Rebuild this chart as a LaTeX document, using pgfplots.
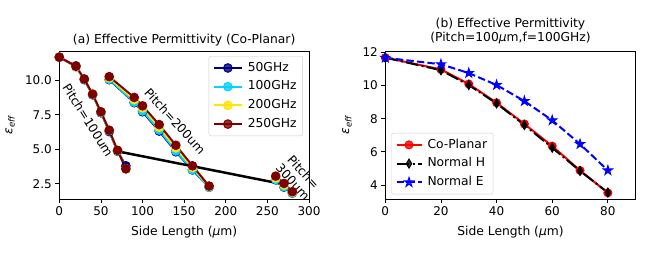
\documentclass[border=0pt]{standalone}
\usepackage{fontspec}
\setmainfont{DejaVu Sans}
\usepackage{pgfplots}
\pgfplotsset{compat=1.18}
\usetikzlibrary{plotmarks}
\definecolor{c50}{rgb}{0,0,0.5}
\definecolor{c100}{rgb}{0,0.83,1}
\definecolor{c200}{rgb}{1,0.9,0}
\definecolor{c250}{rgb}{0.5,0,0}
\definecolor{legframe}{gray}{0.8}
\pgfdeclareplotmark{fstar}{%
  \pgfpathmoveto{\pgfpointpolar{90}{\pgfplotmarksize}}%
  \pgfpathlineto{\pgfpointpolar{126}{0.382\pgfplotmarksize}}%
  \pgfpathlineto{\pgfpointpolar{162}{\pgfplotmarksize}}%
  \pgfpathlineto{\pgfpointpolar{198}{0.382\pgfplotmarksize}}%
  \pgfpathlineto{\pgfpointpolar{234}{\pgfplotmarksize}}%
  \pgfpathlineto{\pgfpointpolar{270}{0.382\pgfplotmarksize}}%
  \pgfpathlineto{\pgfpointpolar{306}{\pgfplotmarksize}}%
  \pgfpathlineto{\pgfpointpolar{342}{0.382\pgfplotmarksize}}%
  \pgfpathlineto{\pgfpointpolar{18}{\pgfplotmarksize}}%
  \pgfpathlineto{\pgfpointpolar{54}{0.382\pgfplotmarksize}}%
  \pgfpathclose\pgfusepathqfillstroke}
\pgfdeclareplotmark{tdiamond}{%
  \pgfpathmoveto{\pgfqpoint{0pt}{\pgfplotmarksize}}%
  \pgfpathlineto{\pgfqpoint{0.6\pgfplotmarksize}{0pt}}%
  \pgfpathlineto{\pgfqpoint{0pt}{-\pgfplotmarksize}}%
  \pgfpathlineto{\pgfqpoint{-0.6\pgfplotmarksize}{0pt}}%
  \pgfpathclose\pgfusepathqfillstroke}
\newcommand{\fs}{\fontsize{12.3}{14}\selectfont}
\newcommand{\ft}{\fontsize{12}{14}\selectfont}
\pgfplotsset{
  mpl/.style={
    scale only axis, height=148pt,
    axis line style={line width=0.8pt},
    tick align=outside, xtick pos=bottom, ytick pos=left,
    major tick length=4pt, tick style={line width=0.8pt,black},
    tick label style={font=\ft},
    /pgf/number format/assume math mode=true,
    label style={font=\fs},
    legend cell align=left,
    legend style={draw=legframe, rounded corners=2pt, fill=white, fill opacity=0.8, text opacity=1,
      font=\fs, nodes={text height=9pt, text depth=2.5pt, inner sep=2pt}, row sep=3.2pt,
      inner xsep=4pt, inner ysep=4pt,
      /tikz/every odd column/.append style={column sep=3pt}},
  }
}
\begin{document}
\begin{tikzpicture}
\path[use as bounding box] (0pt,0pt) rectangle (650pt,260pt);
\begin{axis}[mpl, at={(59.3pt,61pt)}, anchor=south west, width=249.7pt,
  xmin=0, xmax=300, ymin=1.39, ymax=12.13,
  xtick={0,50,100,150,200,250,300}, ytick={2.5,5,7.5,10},
  yticklabel style={/pgf/number format/.cd,fixed,fixed zerofill,precision=1},
  clip=false, unbounded coords=jump,
  title={(a) Effective Permittivity (Co-Planar)},
  title style={font=\fs, at={(axis description cs:0.5,1.034)}, anchor=center},
  xlabel={Side Length (\textit{μ}m)},
  xlabel style={at={(axis description cs:0.5,-0.223)}, anchor=center},
  ylabel={\textit{ε\textsubscript{eff}}},
  ylabel style={at={(axis description cs:-0.197,0.5)}, anchor=center},
  legend style={at={(0.975,0.966)}, anchor=north east},
  legend image code/.code={\draw[mark repeat=2,mark phase=2] plot coordinates {(0pt,0pt)(14pt,0pt)(28pt,0pt)};},
  every axis plot/.append style={line width=2pt, mark=*, mark size=4.3pt, mark options={solid, line width=1pt}},
]
\addplot[c50] table {
x y
0 11.68
20 11.05
30 10.05
40 8.95
50 7.65
60 6.28
70 4.85
80 3.80
nan nan
60 10.05
90 8.38
100 7.72
120 6.32
140 4.82
160 3.50
180 2.24
nan nan
260 2.78
270 2.25
280 1.82
};
\addlegendentry{50GHz}
\addplot[c100] table {
x y
0 11.68
20 10.97
30 10.09
40 8.96
50 7.68
60 6.35
70 4.88
80 3.58
nan nan
60 10.08
90 8.42
100 7.78
120 6.40
140 4.88
160 3.52
180 2.25
nan nan
260 2.80
270 2.28
280 1.83
};
\addlegendentry{100GHz}
\addplot[c200] table {
x y
0 11.68
20 11.00
30 10.10
40 9.00
50 7.70
60 6.37
70 4.90
80 3.58
nan nan
60 10.18
90 8.60
100 8.00
120 6.60
140 5.10
160 3.68
180 2.30
nan nan
260 2.92
270 2.40
280 1.88
};
\addlegendentry{200GHz}
\addplot[c250] table {
x y
0 11.68
20 11.02
30 10.10
40 9.00
50 7.72
60 6.38
70 4.92
80 3.58
nan nan
60 10.27
90 8.76
100 8.15
120 6.79
140 5.29
160 3.80
180 2.33
nan nan
260 3.05
270 2.52
280 1.92
};
\addlegendentry{250GHz}
\addplot[black, line width=2.5pt, mark=none, forget plot] coordinates {(70,4.85) (270,2.45)};
\node[rotate=-58, font=\fs] at (axis cs:34.5,7.12) {Pitch=100um};
\node[rotate=-48, font=\fs] at (axis cs:139,7.04) {Pitch=200um};
\node[rotate=-48, font=\fs, align=center, inner sep=0pt] at (axis cs:287,2.98) {Pitch=\\300um};
\end{axis}

\begin{axis}[mpl, at={(385.3pt,61pt)}, anchor=south west, width=250.4pt,
  xmin=0, xmax=90, ymin=3.16, ymax=12.08,
  xtick={0,20,40,60,80}, ytick={4,6,8,10,12},
  title={(b) Effective Permittivity\\(Pitch=100\textit{μ}m,f=100GHz)},
  title style={font=\fs, align=center, at={(axis description cs:0.5,1.095)}, anchor=center},
  xlabel={Side Length (\textit{μ}m)},
  xlabel style={at={(axis description cs:0.5,-0.223)}, anchor=center},
  ylabel={\textit{ε\textsubscript{eff}}},
  ylabel style={at={(axis description cs:-0.153,0.5)}, anchor=center},
  legend style={at={(0.024,0.032)}, anchor=south west},
  legend image code/.code={\draw[mark repeat=2,mark phase=2] plot coordinates {(0pt,0pt)(12.5pt,0pt)(25pt,0pt)};},
]
\addplot[red, line width=2pt, mark=*, mark size=4pt, mark options={solid, line width=1pt}] coordinates {
(0,11.68)(20,10.97)(30,10.09)(40,8.96)(50,7.68)(60,6.35)(70,4.88)(80,3.53)};
\addlegendentry{Co-Planar}
\addplot[black, line width=2pt, dash pattern=on 12.8pt off 3.2pt on 2pt off 3.2pt, mark=tdiamond, mark size=4.5pt, mark options={solid, line width=1pt}] coordinates {
(0,11.68)(20,10.92)(30,10.03)(40,8.92)(50,7.62)(60,6.25)(70,4.85)(80,3.55)};
\addlegendentry{Normal H}
\addplot[blue, line width=2pt, dash pattern=on 7.4pt off 3.2pt, mark=fstar, mark size=4.8pt, mark options={solid, line width=1pt}] coordinates {
(0,11.67)(20,11.28)(30,10.75)(40,10.03)(50,9.06)(60,7.90)(70,6.47)(80,4.88)};
\addlegendentry{Normal E}
\end{axis}
\end{tikzpicture}
\end{document}
